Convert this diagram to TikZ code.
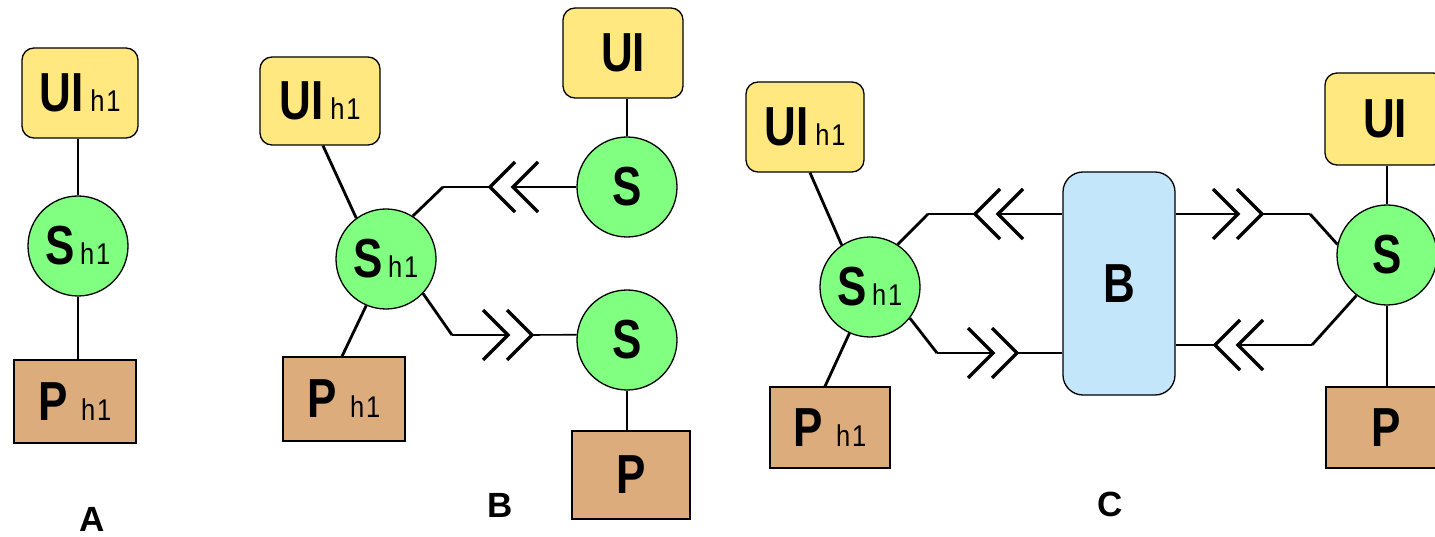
\documentclass[tikz,border=0pt]{standalone}
\usepackage{fontspec}
\usepackage{graphicx}
\setmainfont{Liberation Sans}
\usetikzlibrary{calc}
\definecolor{uiyellow}{HTML}{FFE880}
\definecolor{sgreen}{HTML}{80FF80}
\definecolor{ptan}{HTML}{DCAC7C}
\definecolor{bblue}{HTML}{C4E6FA}
\newcommand\mainlab[1]{\scalebox{0.8}[1]{\fontsize{55}{55}\selectfont\bfseries #1}}
\newcommand\hsub[1]{\scalebox{0.85}[1]{\fontsize{30}{30}\selectfont #1}}
\newcommand\hone{\hsub{h\kern2pt 1}}
\newcommand\panellab[1]{{\fontsize{35}{35}\selectfont\bfseries #1}}
\tikzset{
  base/.style={draw=black, line width=1.3pt, inner sep=0pt, align=center},
  uibox/.style={base, fill=uiyellow, rounded corners=12pt},
  sbox/.style={base, circle, fill=sgreen, minimum size=100pt},
  pbox/.style={base, rectangle, fill=ptan},
  bbox/.style={base, fill=bblue, rounded corners=20pt},
  thinline/.style={line width=1.6pt},
  thickline/.style={line width=2.8pt},
  chev/.style={line width=3.4pt, line join=miter},
  pics/chevL/.style={code={
    \draw[chev] (25,-25) -- (0,0) -- (25,25);
    \draw[chev] (48,-25) -- (23,0) -- (48,25);
  }},
  pics/chevR/.style={code={
    \draw[chev] (-25,-25) -- (0,0) -- (-25,25);
    \draw[chev] (-1,-25) -- (24,0) -- (-1,25);
  }}
}
\begin{document}
\begin{tikzpicture}[x=1pt, y=-1pt]
\useasboundingbox (0,0) rectangle (1435,537);
\clip (0,0) rectangle (1435,537);

% ---------- Panel A ----------
\node[uibox, minimum width=116pt, minimum height=90pt] (uiA) at (80,93) {\mainlab{UI}\hspace{7pt}\hone};
\node[sbox] (sA) at (78,246) {\mainlab{S}\hspace{5pt}\hone};
\node[pbox, minimum width=122pt, minimum height=83pt] (pA) at (75,401.5) {\mainlab{P}\hspace{13pt}\hone};
\draw[thinline] (sA.north) -- (sA.north |- uiA.south);
\draw[thinline] (sA.south) -- (sA.south |- pA.north);
\node (labA) at (92,519) {\panellab{A}};

% ---------- Panel B ----------
\node[uibox, minimum width=120pt, minimum height=88pt] (uiB1) at (320,101) {\mainlab{UI}\hspace{7pt}\hone};
\node[sbox] (sB1) at (386,259) {\mainlab{S}\hspace{5pt}\hone};
\node[pbox, minimum width=122pt, minimum height=84pt] (pB1) at (344,399) {\mainlab{P}\hspace{13pt}\hone};
\node[uibox, minimum width=120pt, minimum height=90pt] (uiB2) at (623,53) {\mainlab{UI}};
\node[sbox] (sB2) at (627,187) {\mainlab{S}};
\node[sbox] (sB3) at (627,340) {\mainlab{S}};
\node[pbox, minimum width=118pt, minimum height=88pt] (pB2) at (631,475) {\mainlab{P}};

\draw[thickline] (sB1.126) -- ([xshift=3pt]uiB1.south);
\draw[thickline] (sB1.247) -- ([xshift=-2pt]pB1.north);
\draw[thinline] (sB2.north) -- (sB2.north |- uiB2.south);
\draw[thinline] (sB3.south) -- (sB3.south |- pB2.north);

\coordinate (eB1) at (443,187);
\coordinate (tB1) at (490,187);
\coordinate (tB2) at (513,187);
\draw[thickline] (sB1.58) -- (eB1);
\draw[thinline] (eB1) -- (tB1);
\draw[thinline] (tB2) -- (sB2.west);
\pic at (tB1) {chevL};

\coordinate (eB2) at (452,335);
\coordinate (tB3) at (508,335);
\coordinate (tB4) at (532,335);
\draw[thickline] (sB1.317) -- (eB2);
\draw[thinline] (eB2) -- (tB3);
\draw[thinline] (tB4) -- (sB3.174);
\pic at (tB3) {chevR};
\node (labB) at (500,505) {\panellab{B}};

% ---------- Panel C ----------
\node[uibox, minimum width=118pt, minimum height=90pt] (uiC1) at (805,127) {\mainlab{UI}\hspace{7pt}\hone};
\node[sbox] (sC1) at (870,287) {\mainlab{S}\hspace{5pt}\hone};
\node[pbox, minimum width=120pt, minimum height=81pt] (pC1) at (830,427.5) {\mainlab{P}\hspace{13pt}\hone};
\node[bbox, minimum width=112pt, minimum height=223pt] (bC) at (1119,283.5) {\mainlab{B}};
\node[uibox, minimum width=120pt, minimum height=92pt] (uiC2) at (1385,119) {\mainlab{UI}};
\node[sbox] (sC2) at (1387,255) {\mainlab{S}};
\node[pbox, minimum width=120pt, minimum height=81pt] (pC2) at (1386,427.5) {\mainlab{P}};

\draw[thickline] (sC1.124) -- ([xshift=5pt]uiC1.south);
\draw[thickline] (sC1.246) -- ([xshift=-5pt]pC1.north);
\draw[thinline] (sC2.north) -- (sC2.north |- uiC2.south);
\draw[thinline] (sC2.south) -- (sC2.south |- pC2.north);

% top-left: B -> S h1
\coordinate (eC1) at (928,214);
\coordinate (tC1) at (975,214);
\coordinate (tC2) at (998,214);
\draw[thickline] (sC1.57) -- (eC1);
\draw[thinline] (eC1) -- (tC1);
\draw[thinline] (tC2) -- (tC2 -| bC.west);
\pic at (tC1) {chevL};

% bottom-left: S h1 -> B
\coordinate (eC2) at (937,353);
\coordinate (tC3) at (993,353);
\coordinate (tC4) at (1017,353);
\draw[thickline] (sC1.322) -- (eC2);
\draw[thinline] (eC2) -- (tC3);
\draw[thinline] (tC4) -- (tC4 -| bC.west);
\pic at (tC3) {chevR};

% top-right: B -> S
\coordinate (tC5) at (1238,214);
\coordinate (tC6) at (1262,214);
\coordinate (eC3) at (1310,214);
\draw[thinline] (tC5 -| bC.east) -- (tC5);
\draw[thinline] (tC6) -- (eC3);
\draw[thickline] (eC3) -- (sC2.168);
\pic at (tC5) {chevR};

% bottom-right: S -> B
\coordinate (tC7) at (1215,345);
\coordinate (tC8) at (1238,345);
\coordinate (eC4) at (1312,345);
\draw[thinline] (tC7) -- (tC7 -| bC.east);
\draw[thinline] (tC8) -- (eC4);
\draw[thickline] (eC4) -- (sC2.233);
\pic at (tC7) {chevL};
\node (labC) at (1110,504) {\panellab{C}};
\end{tikzpicture}
\end{document}
